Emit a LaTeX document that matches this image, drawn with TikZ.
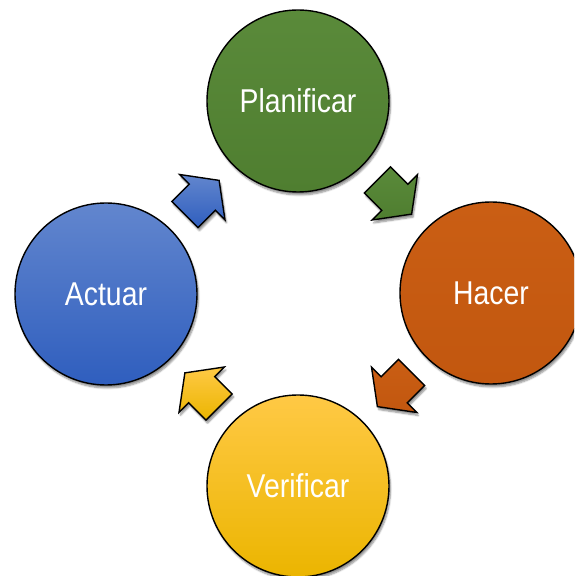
\documentclass[tikz,border=0pt]{standalone}
\usepackage{fontspec}
\newfontfamily\labelfont[FakeStretch=0.86]{Liberation Sans}
\usepackage{xcolor}
\usepackage{tikz}
\usetikzlibrary{calc,shadows.blur}

\definecolor{planTop}{HTML}{5A8A3A}
\definecolor{planBot}{HTML}{4F7E30}
\definecolor{doTop}{HTML}{CA5E14}
\definecolor{doBot}{HTML}{C2570F}
\definecolor{checkTop}{HTML}{FFC945}
\definecolor{checkBot}{HTML}{EBB500}
\definecolor{actTop}{HTML}{6286CE}
\definecolor{actBot}{HTML}{2F5EBE}

\tikzset{
  phase/.style={circle, draw=black, line width=1.4pt, minimum size=182pt, inner sep=0pt,
    text=white, font=\labelfont\fontsize{33}{36}\selectfont,
    blur shadow={shadow xshift=1.5pt, shadow yshift=-3pt, shadow blur steps=6, shadow opacity=45}},
  arrowbox/.style={draw=black, line width=1.4pt, line join=miter,
    blur shadow={shadow xshift=1.5pt, shadow yshift=-3pt, shadow blur steps=6, shadow opacity=45}}
}

\begin{document}
\begin{tikzpicture}[
        x=1pt,y=1pt,
        line cap=round,line join=round
        ]
        % ---- canvas
        \useasboundingbox (0,0) rectangle (574,576);
        \clip (0,0) rectangle (574,576);
        
        % ---- parameters
        \def\len{24.2}   % half length of a block arrow
        \def\sw{18.5}    % half width of the shaft
        \def\hw{32}      % half width of the head
        \def\nx{0.5}     % where the head starts
        
        % phases of the cycle
        \node[phase, top color=planTop,  bottom color=planBot]  (P) at (298,475) {Planificar};
        \node[phase, top color=doTop,    bottom color=doBot]    (H) at (491,283) {Hacer};
        \node[phase, top color=checkTop, bottom color=checkBot] (V) at (298,90)  {Verificar};
        \node[phase, top color=actTop,   bottom color=actBot]   (A) at (106,282) {Actuar};
        
        % block arrows halfway between two phases
        \foreach \a/\b/\ang/\ct/\cb in {P/H/-45/planTop/planBot, H/V/-135/doTop/doBot,
                                        V/A/135/checkTop/checkBot, A/P/45/actTop/actBot}{
          \draw[arrowbox, top color=\ct, bottom color=\cb,
                shift={($(\a)!0.5!(\b)$)}, rotate=\ang]
            (-\len,-\sw) -- (\nx,-\sw) -- (\nx,-\hw) -- (\len,0)
            -- (\nx,\hw) -- (\nx,\sw) -- (-\len,\sw) -- cycle;
        }
\end{tikzpicture}
\end{document}
